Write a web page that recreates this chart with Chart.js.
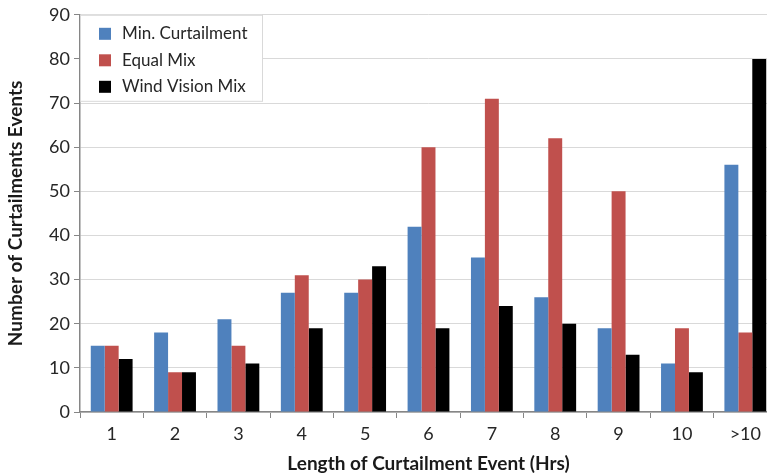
<!DOCTYPE html>
<html>
<head>
<meta charset="utf-8">
<script src="https://cdn.jsdelivr.net/npm/chart.js@4/dist/chart.umd.min.js"></script>
<style>
html,body{margin:0;padding:0;background:#fff;overflow:hidden;}
#wrap{position:relative;width:777px;height:476px;}
</style>
</head>
<body>
<div id="wrap"><canvas id="c" width="777" height="476"></canvas></div>
<script>
const categories = ["1","2","3","4","5","6","7","8","9","10",">10"];
const minCurtailment = [15,18,21,27,27,42,35,26,19,11,56];
const equalMix = [15,9,15,31,30,60,71,62,50,19,18];
const windVisionMix = [12,9,11,19,33,19,24,20,13,9,80];
const seriesNames = ["Min. Curtailment","Equal Mix","Wind Vision Mix"];
const yTicks = [0,10,20,30,40,50,60,70,80,90];

const FONT = "Lato, 'Open Sans', sans-serif";

const legendPlugin = {
  id: 'boxLegend',
  afterDraw(chart) {
    const ctx = chart.ctx;
    const a = chart.chartArea;
    const x0 = a.left, y0 = a.top, w = 182, h = 86;
    ctx.save();
    ctx.fillStyle = '#fff';
    ctx.fillRect(x0, y0, w, h);
    ctx.strokeStyle = '#d9d9d9';
    ctx.lineWidth = 1;
    ctx.strokeRect(x0 + 0.5, y0 + 0.5, w, h);
    ctx.font = "17px " + FONT;
    ctx.textBaseline = 'middle';
    chart.data.datasets.forEach((ds, i) => {
      const cy = y0 + 19 + i * 26.5;
      ctx.fillStyle = ds.backgroundColor;
      ctx.fillRect(x0 + 19, cy - 6, 12, 12);
      ctx.fillStyle = '#262626';
      ctx.fillText(ds.label, x0 + 42, cy);
    });
    ctx.restore();
  }
};

new Chart(document.getElementById('c'), {
  type: 'bar',
  data: {
    labels: categories,
    datasets: [
      {label: seriesNames[0], data: minCurtailment, backgroundColor: '#4F81BD'},
      {label: seriesNames[1], data: equalMix, backgroundColor: '#C0504D'},
      {label: seriesNames[2], data: windVisionMix, backgroundColor: '#000000'}
    ]
  },
  options: {
    responsive: false,
    animation: false,
    devicePixelRatio: 1,
    layout: {padding: {top: 14, right: 0, bottom: 0, left: 0}},
    datasets: {bar: {categoryPercentage: 0.66, barPercentage: 1.0}},
    plugins: {legend: {display: false}, tooltip: {enabled: false}},
    scales: {
      x: {
        grid: {offset: true, drawOnChartArea: false, drawTicks: true, tickLength: 6, tickColor: '#868686'},
        border: {color: '#868686', width: 1.5},
        ticks: {font: {family: FONT, size: 18}, color: '#262626', padding: 5},
        title: {display: true, text: 'Length of Curtailment Event (Hrs)', font: {family: FONT, size: 19, weight: 'bold'}, color: '#1a1a1a', padding: {top: 0, bottom: 1}},
        afterFit(s) { s.height = 64; }
      },
      y: {
        min: 0, max: 90,
        afterBuildTicks(s) { s.ticks = yTicks.map(v => ({value: v})); },
        grid: {color: '#d9d9d9', tickColor: '#868686', tickLength: 6, drawTicks: true},
        border: {color: '#868686', width: 1.5},
        ticks: {font: {family: FONT, size: 18}, color: '#262626', padding: 4},
        title: {display: true, text: 'Number of Curtailments Events', font: {family: FONT, size: 19, weight: 'bold'}, color: '#1a1a1a', padding: {top: 4, bottom: 0}},
        afterFit(s) { s.width = 80; }
      }
    }
  },
  plugins: [legendPlugin]
});
</script>
</body>
</html>
